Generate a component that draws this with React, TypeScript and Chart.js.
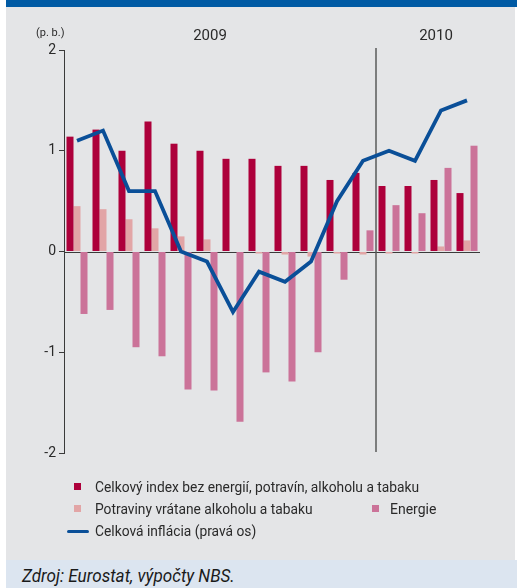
import React, { useEffect, useRef } from "react";
import { Chart, registerables } from "chart.js";
Chart.register(...registerables);

const months = ["1/09", "2/09", "3/09", "4/09", "5/09", "6/09", "7/09", "8/09", "9/09", "10/09", "11/09", "12/09", "1/10", "2/10", "3/10", "4/10"];
const coreIndex = [1.14, 1.21, 1.0, 1.29, 1.07, 1.0, 0.92, 0.92, 0.85, 0.85, 0.71, 0.78, 0.65, 0.65, 0.71, 0.58];
const food = [0.45, 0.42, 0.32, 0.23, 0.15, 0.12, 0.0, -0.02, -0.03, -0.05, -0.02, -0.03, -0.02, -0.02, 0.05, 0.11];
const energy = [-0.62, -0.58, -0.95, -1.04, -1.37, -1.38, -1.69, -1.2, -1.29, -1.0, -0.28, 0.21, 0.46, 0.38, 0.83, 1.05];
const inflation = [1.1, 1.2, 0.6, 0.6, 0.0, -0.1, -0.6, -0.2, -0.3, -0.1, 0.5, 0.9, 1.0, 0.9, 1.4, 1.5];
const yearLabels = ["2009", "2010"];
const seriesNames = [
  "Celkový index bez energií, potravín, alkoholu a tabaku",
  "Potraviny vrátane alkoholu a tabaku",
  "Energie",
  "Celková inflácia (pravá os)",
];

const C_CORE = "#ad003b";
const C_FOOD = "#e2a5a6";
const C_ENERGY = "#cb7399";
const C_LINE = "#0a4f98";
const FONT = "Roboto, 'Liberation Sans', sans-serif";
const TEXT = "#2a2a2a";

const guides = {
  id: "guides",
  beforeDatasetsDraw(chart: any) {
    const { ctx, chartArea } = chart;
    const y = chart.scales.y;
    const x = chart.scales.x;
    ctx.save();
    ctx.strokeStyle = "#3a3a3a";
    ctx.lineWidth = 1;
    const y0 = Math.round(y.getPixelForValue(0)) + 0.5;
    ctx.beginPath();
    ctx.moveTo(chartArea.left, y0);
    ctx.lineTo(chartArea.right, y0);
    ctx.stroke();
    const sep = (x.getPixelForValue(11) + x.getPixelForValue(12)) / 2;
    ctx.strokeStyle = "#5a5a5a";
    ctx.lineWidth = 1.5;
    ctx.beginPath();
    ctx.moveTo(sep, chartArea.top - 2);
    ctx.lineTo(sep, chartArea.bottom - 1);
    ctx.stroke();
    ctx.restore();
  },
};

function ChartCanvas() {
  const ref = useRef<HTMLCanvasElement>(null);
  useEffect(() => {
    if (!ref.current) return;
    const chart = new Chart(ref.current, {
      type: "bar",
      data: {
        labels: months,
        datasets: [
          { type: "line", label: seriesNames[3], data: inflation, borderColor: C_LINE, borderWidth: 3.8, pointRadius: 0, tension: 0, yAxisID: "y2", order: 0, borderCapStyle: "butt", borderJoinStyle: "miter" } as any,
          { label: seriesNames[0], data: coreIndex, backgroundColor: C_CORE, order: 1 },
          { label: seriesNames[1], data: food, backgroundColor: C_FOOD, order: 1 },
          { label: seriesNames[2], data: energy, backgroundColor: C_ENERGY, order: 1 },
        ],
      },
      options: {
        responsive: false,
        animation: false,
        events: [],
        layout: { padding: { top: 43, right: 35, bottom: 107, left: 0 } },
        datasets: { bar: { categoryPercentage: 0.808, barPercentage: 1.0 } },
        plugins: { legend: { display: false }, tooltip: { enabled: false } },
        scales: {
          x: { display: false },
          y: {
            min: -2,
            max: 2,
            ticks: { stepSize: 1, color: TEXT, font: { family: FONT, size: 14 }, padding: 3 },
            grid: { drawOnChartArea: false, drawTicks: true, tickLength: 5, color: "#3a3a3a" },
            border: { display: true, color: "#3a3a3a", width: 1 },
            afterFit: (s: any) => { s.width = 58; },
          },
          y2: { display: false, min: -2, max: 2, position: "right" },
        },
      },
      plugins: [guides],
    });
    return () => chart.destroy();
  }, []);
  return <canvas ref={ref} width={509} height={553} style={{ position: "absolute", left: 6, top: 7, display: "block" }} />;
}

const sq = (color: string, left: number, top: number) => (
  <div style={{ position: "absolute", left, top, width: 7, height: 7, background: color }} />
);

export default function App() {
  return (
    <div style={{ position: "absolute", left: 0, top: 0, width: 517, height: 588, background: "#fff", overflow: "hidden", fontFamily: FONT, color: TEXT }}>
      <div style={{ position: "absolute", left: 6, top: 0, width: 511, height: 7, background: "#005aa4" }} />
      <div style={{ position: "absolute", left: 6, top: 7, width: 509, height: 553, background: "#e4e5e7" }} />
      <div style={{ position: "absolute", left: 6, top: 560, width: 511, height: 28, background: "#dce5f0" }} />
      <ChartCanvas />
      <div style={{ position: "absolute", left: 36, top: 27, fontSize: 11, lineHeight: "12px" }}>(p. b.)</div>
      <div style={{ position: "absolute", left: 170, width: 80, textAlign: "center", top: 26, fontSize: 15, lineHeight: "18px" }}>{yearLabels[0]}</div>
      <div style={{ position: "absolute", left: 396, width: 80, textAlign: "center", top: 26, fontSize: 15, lineHeight: "18px" }}>{yearLabels[1]}</div>
      {sq(C_CORE, 74, 483)}
      <div style={{ position: "absolute", left: 95, top: 479, fontSize: 14, lineHeight: "16px", whiteSpace: "nowrap", transformOrigin: "left center", transform: "scaleX(0.985)" }}>{seriesNames[0]}</div>
      {sq(C_FOOD, 74, 505)}
      <div style={{ position: "absolute", left: 95, top: 501, fontSize: 14, lineHeight: "16px", whiteSpace: "nowrap", transformOrigin: "left center", transform: "scaleX(0.985)" }}>{seriesNames[1]}</div>
      {sq(C_ENERGY, 372, 505)}
      <div style={{ position: "absolute", left: 390, top: 501, fontSize: 14, lineHeight: "16px", whiteSpace: "nowrap" }}>{seriesNames[2]}</div>
      <div style={{ position: "absolute", left: 67, top: 529.5, width: 22, height: 3.5, borderRadius: 1.75, background: C_LINE }} />
      <div style={{ position: "absolute", left: 95, top: 523, fontSize: 14, lineHeight: "16px", whiteSpace: "nowrap", transformOrigin: "left center", transform: "scaleX(0.985)" }}>{seriesNames[3]}</div>
      <div style={{ position: "absolute", left: 22, top: 566, fontSize: 18, lineHeight: "20px", fontStyle: "italic", whiteSpace: "nowrap", transformOrigin: "left center", transform: "scaleX(0.95)", color: "#1a1a1a" }}>Zdroj: Eurostat, výpočty NBS.</div>
    </div>
  );
}
